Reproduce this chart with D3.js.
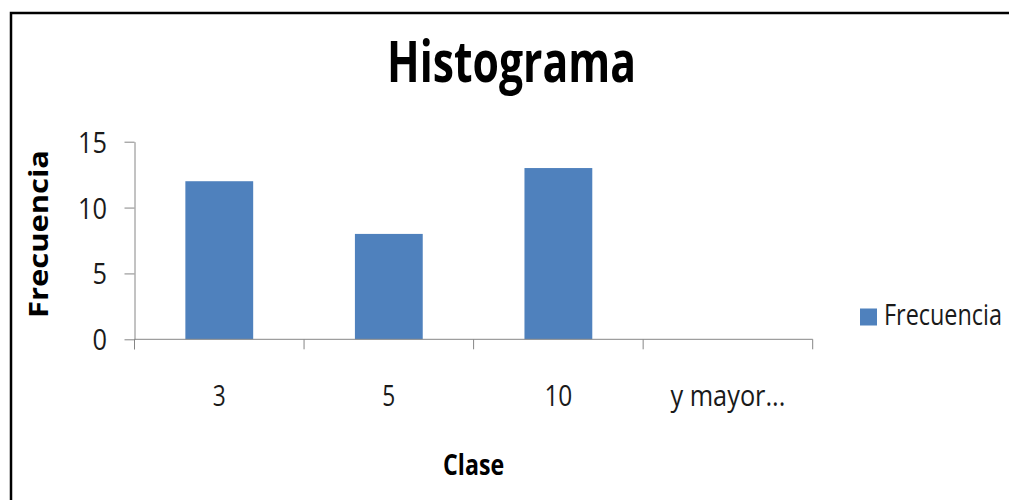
<!DOCTYPE html>
<html>
<head>
<meta charset="utf-8">
<script src="https://cdn.jsdelivr.net/npm/d3@7"></script>
<style>
  html, body { margin: 0; padding: 0; background: #fff; overflow: hidden; }
  svg { display: block; }
  text { font-family: "Open Sans", "DejaVu Sans", sans-serif; }
</style>
</head>
<body>
<svg id="chart" width="1009" height="500"></svg>
<script>
// Histogram of class frequencies
const categories = ["3", "5", "10", "y mayor..."];
const frecuencia = [12, 8, 13, 0];
const yTicks = [0, 5, 10, 15];
const seriesName = "Frecuencia";
const chartTitle = "Histograma";
const xTitle = "Clase";
const yTitle = "Frecuencia";

const svg = d3.select("#chart");
const barColor = "#4F81BD";
const axisColor = "#868686";
const textColor = "#1a1a1a";

// chart frame (top and left edges inside the view)
svg.append("path")
  .attr("d", "M11,520 V13 H1020")
  .attr("fill", "none")
  .attr("stroke", "#000").attr("stroke-width", 2.5);

const plot = { left: 134.5, right: 812.7, top: 141.7, bottom: 339.3 };

const y = d3.scaleLinear().domain([0, 15]).range([plot.bottom, plot.top]);
// category slots (tick boundaries) and bars (gap width 150%)
const xSlot = d3.scaleBand().domain(categories).range([plot.left, plot.right]).padding(0);
const xBar = d3.scaleBand().domain(categories).range([plot.left, plot.right])
  .paddingInner(0.6).paddingOuter(0.3);

// squeeze text horizontally to the narrow typeface look
function fit(sel, w) {
  sel.attr("textLength", w).attr("lengthAdjust", "spacingAndGlyphs");
  return sel;
}

// bars
svg.append("g").selectAll("rect")
  .data(categories.map((c, i) => ({ c, v: frecuencia[i] })))
  .join("rect")
  .attr("x", d => xBar(d.c))
  .attr("width", xBar.bandwidth())
  .attr("y", d => y(d.v))
  .attr("height", d => y(0) - y(d.v))
  .attr("fill", barColor);

// y axis
const yAxis = svg.append("g")
  .attr("transform", `translate(${plot.left},0)`)
  .call(d3.axisLeft(y).tickValues(yTicks).tickSize(10).tickSizeOuter(0).tickFormat(""));
yAxis.select(".domain").attr("stroke", axisColor);
yAxis.selectAll(".tick line").attr("stroke", axisColor);
// axis line runs down to the bottom of the category ticks
svg.append("line")
  .attr("x1", plot.left).attr("x2", plot.left)
  .attr("y1", plot.bottom).attr("y2", plot.bottom + 10)
  .attr("stroke", axisColor);

yAxis.selectAll(".tick").append("text")
  .attr("x", -27.5)
  .attr("y", 10.5)
  .attr("text-anchor", "end")
  .attr("fill", textColor)
  .attr("font-size", 29)
  .text(d => d)
  .each(function(d) { fit(d3.select(this), String(d).length * 14.5); });

// x axis
const xAxisG = svg.append("g").attr("transform", `translate(0,${plot.bottom})`);
xAxisG.append("line")
  .attr("x1", plot.left).attr("x2", plot.right)
  .attr("y1", 0).attr("y2", 0)
  .attr("stroke", axisColor);
const bounds = categories.map(c => xSlot(c)).concat([xSlot(categories[categories.length - 1]) + xSlot.bandwidth()]);
xAxisG.selectAll("line.tick").data(bounds).join("line")
  .attr("class", "tick")
  .attr("x1", d => d).attr("x2", d => d)
  .attr("y1", 0).attr("y2", 10)
  .attr("stroke", axisColor);

const xLabelWidths = { "3": 13, "5": 13, "10": 28, "y mayor...": 115 };
xAxisG.selectAll("text.cat").data(categories).join("text")
  .attr("class", "cat")
  .attr("x", d => xSlot(d) + xSlot.bandwidth() / 2)
  .attr("y", 66.7)
  .attr("text-anchor", "middle")
  .attr("fill", textColor)
  .attr("font-size", 29)
  .text(d => d)
  .each(function(d) { fit(d3.select(this), xLabelWidths[d]); });

// titles
fit(svg.append("text")
  .attr("x", 511.5).attr("y", 82)
  .attr("text-anchor", "middle")
  .attr("font-size", 57).attr("font-weight", "bold")
  .attr("fill", "#000")
  .text(chartTitle), 249);

fit(svg.append("text")
  .attr("x", (plot.left + plot.right) / 2).attr("y", 475)
  .attr("text-anchor", "middle")
  .attr("font-size", 28).attr("font-weight", "bold")
  .attr("fill", "#000")
  .text(xTitle), 61);

fit(svg.append("text")
  .attr("transform", "translate(48,234) rotate(-90)")
  .attr("text-anchor", "middle")
  .attr("font-size", 27).attr("font-weight", "bold")
  .attr("fill", "#000")
  .text(yTitle), 168);

// legend
const legend = svg.append("g");
legend.append("rect")
  .attr("x", 860).attr("y", 308.5)
  .attr("width", 17).attr("height", 17)
  .attr("fill", barColor);
fit(legend.append("text")
  .attr("x", 884).attr("y", 325)
  .attr("font-size", 29)
  .attr("fill", textColor)
  .text(seriesName), 118);
</script>
</body>
</html>
